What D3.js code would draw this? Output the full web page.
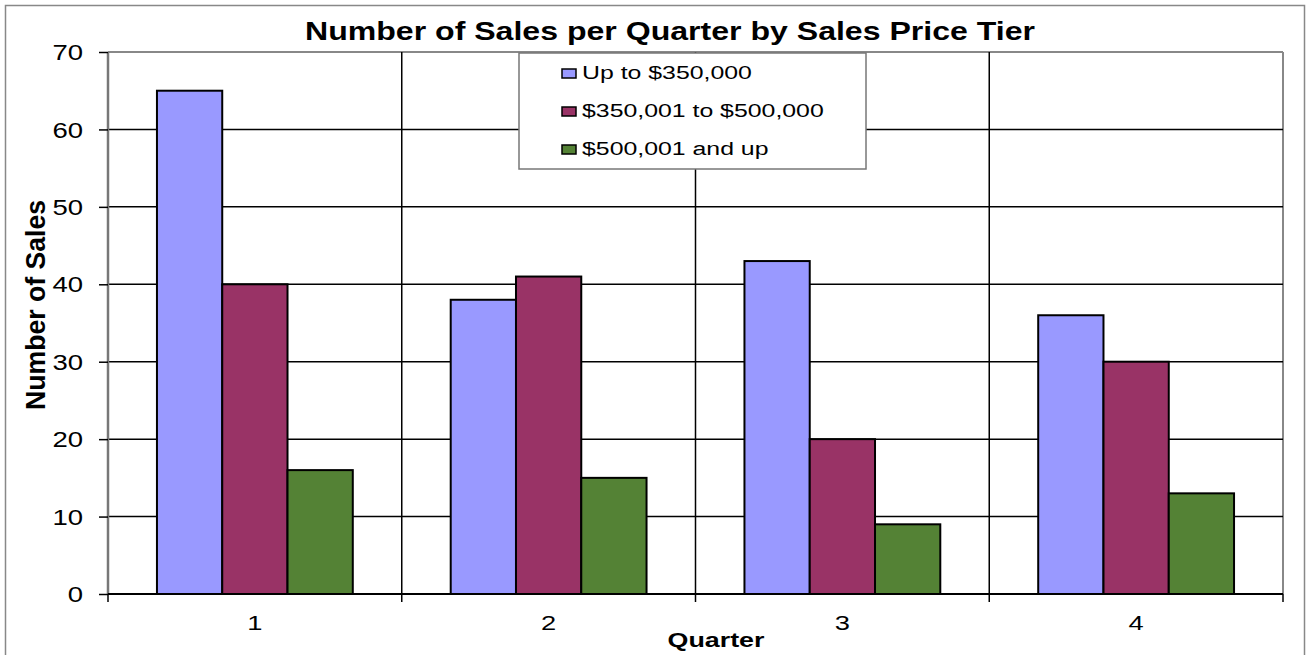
<!DOCTYPE html>
<html><head><meta charset="utf-8">
<script src="https://cdn.jsdelivr.net/npm/d3@7"></script>
<style>body{margin:0;background:#fff}svg{display:block}text{font-family:"Liberation Sans",Arial,sans-serif}</style>
</head><body>
<svg id="c" width="1310" height="655"></svg>
<script>
const quarters = ["1","2","3","4"];
const seriesNames = ["Up to $350,000","$350,001 to $500,000","$500,001 and up"];
const upTo350k = [65,38,43,36];
const mid350to500k = [40,41,20,30];
const over500k = [16,15,9,13];
const yTicks = [0,10,20,30,40,50,60,70];
const colors = ["#9999FF","#993366","#548235"];

const svg = d3.select("#c");
const L=108, R=1283, T=52, B=594;
const x = d3.scaleBand().domain(quarters).range([L,R]).paddingInner(0).paddingOuter(0);
const y = d3.scaleLinear().domain([0,70]).range([B,T]);
const bw = x.bandwidth()/4.5;
const xs = d3.scaleBand().domain(seriesNames).range([0.75*bw, 3.75*bw]);

// horizontal stretch helper (reference text is wider than natural)
function stretch(sel, k){
  sel.each(function(){
    const w = this.getComputedTextLength();
    d3.select(this).attr("textLength", w*k).attr("lengthAdjust","spacingAndGlyphs");
  });
}

// chart area border
svg.append("rect").attr("x",5.5).attr("y",5.5).attr("width",1299).attr("height",670)
  .attr("fill","#fff").attr("stroke","#888").attr("stroke-width",1.5);

// plot area top/right border
svg.append("line").attr("x1",L).attr("x2",R).attr("y1",T).attr("y2",T).attr("stroke","#888").attr("stroke-width",2);
svg.append("line").attr("x1",R).attr("x2",R).attr("y1",T).attr("y2",B).attr("stroke","#888").attr("stroke-width",2);

// horizontal gridlines
svg.append("g").selectAll("line").data(yTicks.filter(d=>d>0&&d<70)).join("line")
  .attr("x1",L).attr("x2",R).attr("y1",d=>y(d)).attr("y2",d=>y(d)).attr("stroke","#000").attr("stroke-width",1.5);
// vertical gridlines at category boundaries
svg.append("g").selectAll("line").data(quarters.slice(1)).join("line")
  .attr("x1",d=>x(d)).attr("x2",d=>x(d)).attr("y1",T).attr("y2",B).attr("stroke","#000").attr("stroke-width",1.5);

// y axis
const yAxis = d3.axisLeft(y).tickValues(yTicks).tickSize(9).tickPadding(16);
const ya = svg.append("g").attr("transform",`translate(${L},0)`).call(yAxis);
ya.select(".domain").attr("stroke","#777").attr("stroke-width",2.5).attr("d",`M0,${T}V${B}`);
ya.selectAll(".tick line").attr("stroke","#000").attr("stroke-width",1.5);
ya.selectAll(".tick text").attr("font-size",22).attr("fill","#000").attr("dy","0.35em")
  .attr("font-family","Liberation Sans, Arial, sans-serif").call(stretch,1.25);

// x axis
const xa = svg.append("g").attr("transform",`translate(0,${B})`).call(d3.axisBottom(x).tickSize(0).tickPadding(21));
xa.select(".domain").remove();
xa.selectAll(".tick text").attr("font-size",21).attr("fill","#000")
  .attr("font-family","Liberation Sans, Arial, sans-serif").call(stretch,1.3);
svg.append("line").attr("x1",L).attr("x2",R).attr("y1",B).attr("y2",B).attr("stroke","#000").attr("stroke-width",2);
const bounds = quarters.map(q=>x(q)).concat([R]);
svg.append("g").selectAll("line").data(bounds).join("line")
  .attr("x1",d=>d).attr("x2",d=>d).attr("y1",B).attr("y2",B+8).attr("stroke","#000").attr("stroke-width",1.5);

// bars
const allSeries = [upTo350k, mid350to500k, over500k];
allSeries.forEach((vals,si)=>{
  svg.append("g").selectAll("rect").data(vals).join("rect")
    .attr("x",(d,i)=>x(quarters[i])+xs(seriesNames[si]))
    .attr("y",d=>y(d))
    .attr("width",xs.bandwidth())
    .attr("height",d=>y(0)-y(d))
    .attr("fill",colors[si]).attr("stroke","#000").attr("stroke-width",2);
});

// title
svg.append("text").attr("x",670).attr("y",40).attr("text-anchor","middle")
  .attr("font-size",25).attr("font-weight","bold")
  .attr("textLength",730).attr("lengthAdjust","spacingAndGlyphs")
  .text("Number of Sales per Quarter by Sales Price Tier");
// axis titles
svg.append("text").attr("x",716).attr("y",647).attr("text-anchor","middle")
  .attr("font-size",20).attr("font-weight","bold")
  .attr("textLength",97).attr("lengthAdjust","spacingAndGlyphs").text("Quarter");
svg.append("text").attr("transform","translate(45,305) rotate(-90) scale(1,1.2)").attr("text-anchor","middle")
  .attr("font-size",23).attr("font-weight","bold")
  .attr("textLength",210).attr("lengthAdjust","spacingAndGlyphs").text("Number of Sales");

// legend
const lg = svg.append("g");
lg.append("rect").attr("x",519).attr("y",53).attr("width",347).attr("height",116)
  .attr("fill","#fff").attr("stroke","#777").attr("stroke-width",1.5);
seriesNames.forEach((n,i)=>{
  const base = 79 + i*38;
  lg.append("rect").attr("x",562).attr("y",base-10).attr("width",14).attr("height",9)
    .attr("fill",colors[i]).attr("stroke","#000").attr("stroke-width",1.5);
  lg.append("text").attr("x",582).attr("y",base).attr("font-size",18).text(n).call(stretch,1.38);
});
</script>
</body></html>
